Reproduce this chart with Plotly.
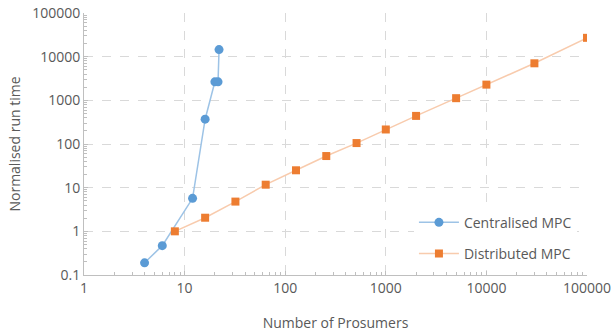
import plotly.graph_objects as go

cent_x = [4, 6, 12, 16, 20, 21.5, 22]
cent_y = [0.19, 0.47, 5.7, 370, 2650, 2650, 14500]
dist_x = [8, 16, 32, 64, 128, 256, 512, 1000, 2000, 5000, 10000, 30000, 100000]
dist_y = [1, 2.05, 4.8, 11.7, 25, 53, 105, 215, 440, 1120, 2290, 7050, 27000]
tick_vals = [0.1, 1, 10, 100, 1000, 10000, 100000]
tick_text = ["0.1", "1", "10", "100", "1000", "10000", "100000"]
xtick_vals = [1, 10, 100, 1000, 10000, 100000]
xtick_text = ["1", "10", "100", "1000", "10000", "100000"]

FONT = "Open Sans, Liberation Sans, sans-serif"
fig = go.Figure()
fig.add_trace(go.Scatter(x=cent_x, y=cent_y, mode="lines+markers", name="Centralised MPC",
                         legendgroup="a",
                         line=dict(color="#9dc3e6", width=1.5),
                         marker=dict(color="#5b9bd5", size=9, symbol="circle")))
fig.add_trace(go.Scatter(x=dist_x, y=dist_y, mode="lines+markers", name="Distributed MPC",
                         legendgroup="b",
                         line=dict(color="#f8cbad", width=1.5),
                         marker=dict(color="#ed7d31", size=8, symbol="square")))

axis_common = dict(showline=True, linecolor="#bfbfbf", linewidth=1,
                   gridcolor="#d9d9d9", griddash="dash", gridwidth=1,
                   ticks="inside", ticklen=4, tickcolor="#bfbfbf",
                   tickfont=dict(family=FONT, size=14, color="#595959"),
                   ticklabeloverflow="allow",
                   zeroline=False, mirror=False, automargin=False)

fig.update_xaxes(type="log", range=[0, 5], tickvals=xtick_vals, ticktext=xtick_text,
                 title=dict(text="Number of Prosumers", font=dict(family=FONT, size=14, color="#595959"), standoff=22),
                 minor=dict(ticks="inside", ticklen=3, tickcolor="#bfbfbf", showgrid=False, dtick="D1"),
                 **axis_common)
fig.update_yaxes(type="log", range=[-1, 5], tickvals=tick_vals, ticktext=tick_text,
                 title=dict(text="Normalised run time", font=dict(family=FONT, size=14, color="#595959"), standoff=8),
                 minor=dict(ticks="inside", ticklen=3, tickcolor="#bfbfbf", showgrid=False, dtick="D1"),
                 **axis_common)

fig.update_layout(width=611, height=335, plot_bgcolor="white", paper_bgcolor="white",
                  margin=dict(l=84, r=24, t=13, b=60),
                  font=dict(family=FONT, color="#595959"),
                  legend=dict(x=0.98, y=0.02, xanchor="right", yanchor="bottom",
                              bgcolor="white", font=dict(family=FONT, size=14, color="#595959"),
                              itemwidth=40, tracegroupgap=10))
fig.write_html("out.html", config={"displayModeBar": False},
               post_script="document.body.style.margin='0';document.body.style.overflow='hidden';")
